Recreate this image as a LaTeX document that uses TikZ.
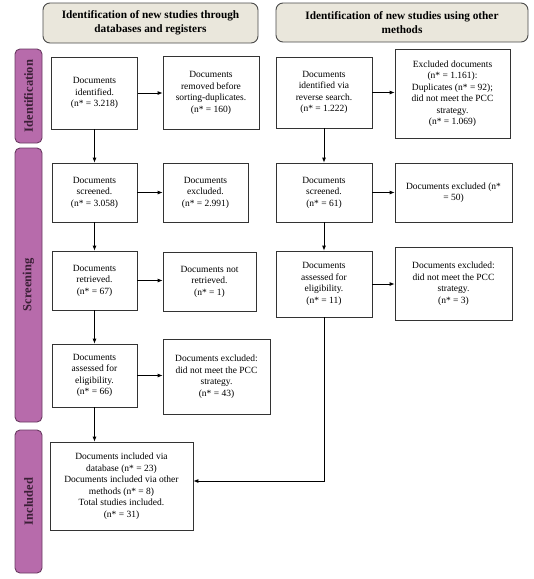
\documentclass[tikz,border=0pt]{standalone}
\usepackage{fontspec}
\setmainfont{Liberation Serif}
\usetikzlibrary{arrows.meta,calc}
\definecolor{barfill}{HTML}{B76BAB}
\definecolor{bardraw}{HTML}{6A3A62}
\definecolor{bartext}{HTML}{3A1F36}
\definecolor{headfill}{HTML}{EAE7DC}
\definecolor{headdraw}{HTML}{4A4A4A}
\tikzset{
  x=1pt, y=-1pt,
  docbox/.style={draw=black!80, line width=0.7pt, fill=white, inner sep=0pt, align=center,
    font=\fontsize{9.5}{11.5}\selectfont},
  headbox/.style={draw=headdraw, line width=0.9pt, fill=headfill, rounded corners=7pt, inner sep=0pt,
    align=center, font=\fontsize{11.3}{14.5}\selectfont\bfseries},
  sidebar/.style={draw=bardraw, line width=0.9pt, fill=barfill, rounded corners=5pt, inner sep=0pt,
    text=bartext, font=\fontsize{12.5}{14}\selectfont\bfseries},
  flow/.style={line width=0.9pt, -{Latex[length=5pt,width=4pt]}},
}
\begin{document}
\begin{tikzpicture}
\useasboundingbox (0,0) rectangle (534,579);
% headers
\node[headbox, minimum width=215pt, minimum height=40pt] (h1) at (150.5,23) {Identification of new studies through\\databases and registers};
\node[headbox, minimum width=252pt, minimum height=39pt] (h2) at (402,22.5) {Identification of new studies using other\\methods};
% side bars
\node[sidebar, minimum width=94pt, minimum height=27pt, rotate=90] (sid) at (28.5,96) {Identification};
\node[sidebar, minimum width=274pt, minimum height=27pt, rotate=90] (ssc) at (28.5,285) {Screening};
\node[sidebar, minimum width=143pt, minimum height=27pt, rotate=90] (sin) at (28.5,501.5) {Included};
% left column
\node[docbox, minimum width=86pt, minimum height=72pt] (A) at (94.5,93) {Documents\\identified.\\(n* = 3.218)};
\node[docbox, minimum width=96pt, minimum height=73pt] (B) at (211,93) {Documents\\removed before\\sorting-duplicates.\\(n* = 160)};
\node[docbox, minimum width=85pt, minimum height=59pt] (S1) at (94.5,192.5) {Documents\\screened.\\(n* = 3.058)};
\node[docbox, minimum width=85pt, minimum height=59pt] (E1) at (205.5,192.5) {Documents\\excluded.\\(n* = 2.991)};
\node[docbox, minimum width=85pt, minimum height=59pt] (R) at (94.5,280.5) {Documents\\retrieved.\\(n* = 67)};
\node[docbox, minimum width=93pt, minimum height=59pt] (NR) at (209.5,281.5) {Documents not\\retrieved.\\(n* = 1)};
\node[docbox, minimum width=85pt, minimum height=63pt] (AS) at (94.5,375.5) {Documents\\assessed for\\eligibility.\\(n* = 66)};
\node[docbox, minimum width=107pt, minimum height=75pt] (E43) at (216.5,376.5) {Documents excluded:\\did not meet the PCC\\strategy.\\(n* = 43)};
\node[docbox, minimum width=143pt, minimum height=88pt] (INC) at (121.5,486) {Documents included via\\database (n* = 23)\\Documents included via other\\methods (n* = 8)\\Total studies included.\\(n* = 31)};
% right column
\node[docbox, minimum width=96pt, minimum height=71pt] (C) at (324,92.5) {Documents\\identified via\\reverse search.\\(n* = 1.222)};
\node[docbox, minimum width=115pt, minimum height=89pt] (D) at (452.5,93.5) {Excluded documents\\(n* = 1.161):\\Duplicates (n* = 92);\\did not meet the PCC\\strategy.\\(n* = 1.069)};
\node[docbox, minimum width=96pt, minimum height=59pt] (S2) at (324,192.5) {Documents\\screened.\\(n* = 61)};
\node[docbox, minimum width=117pt, minimum height=59pt] (E50) at (453.5,192.5) {Documents excluded (n*\\= 50)};
\node[docbox, minimum width=96pt, minimum height=66pt] (AS2) at (324,284) {Documents\\assessed for\\eligibility.\\(n* = 11)};
\node[docbox, minimum width=117pt, minimum height=73pt] (E3) at (453.5,283.5) {Documents excluded:\\did not meet the PCC\\strategy.\\(n* = 3)};
\coordinate (turn) at (324,481);
% arrows left
\draw[flow] (A.east) -- (B.west |- A.east);
\draw[flow] (A.south) -- (S1.north);
\draw[flow] (S1.east) -- (E1.west);
\draw[flow] (S1.south) -- (R.north);
\draw[flow] (R.east) -- (NR.west |- R.east);
\draw[flow] (R.south) -- (AS.north);
\draw[flow] (AS.east) -- (E43.west |- AS.east);
\draw[flow] (AS.south) -- (AS.south |- INC.north);
% arrows right
\draw[flow] (C.east) -- (D.west |- C.east);
\draw[flow] (C.south) -- (S2.north);
\draw[flow] (S2.east) -- (E50.west);
\draw[flow] (S2.south) -- (AS2.north);
\draw[flow] (AS2.east) -- (E3.west |- AS2.east);
\draw[flow] (AS2.south) -- (turn) -- (INC.east |- turn);
\end{tikzpicture}
\end{document}
